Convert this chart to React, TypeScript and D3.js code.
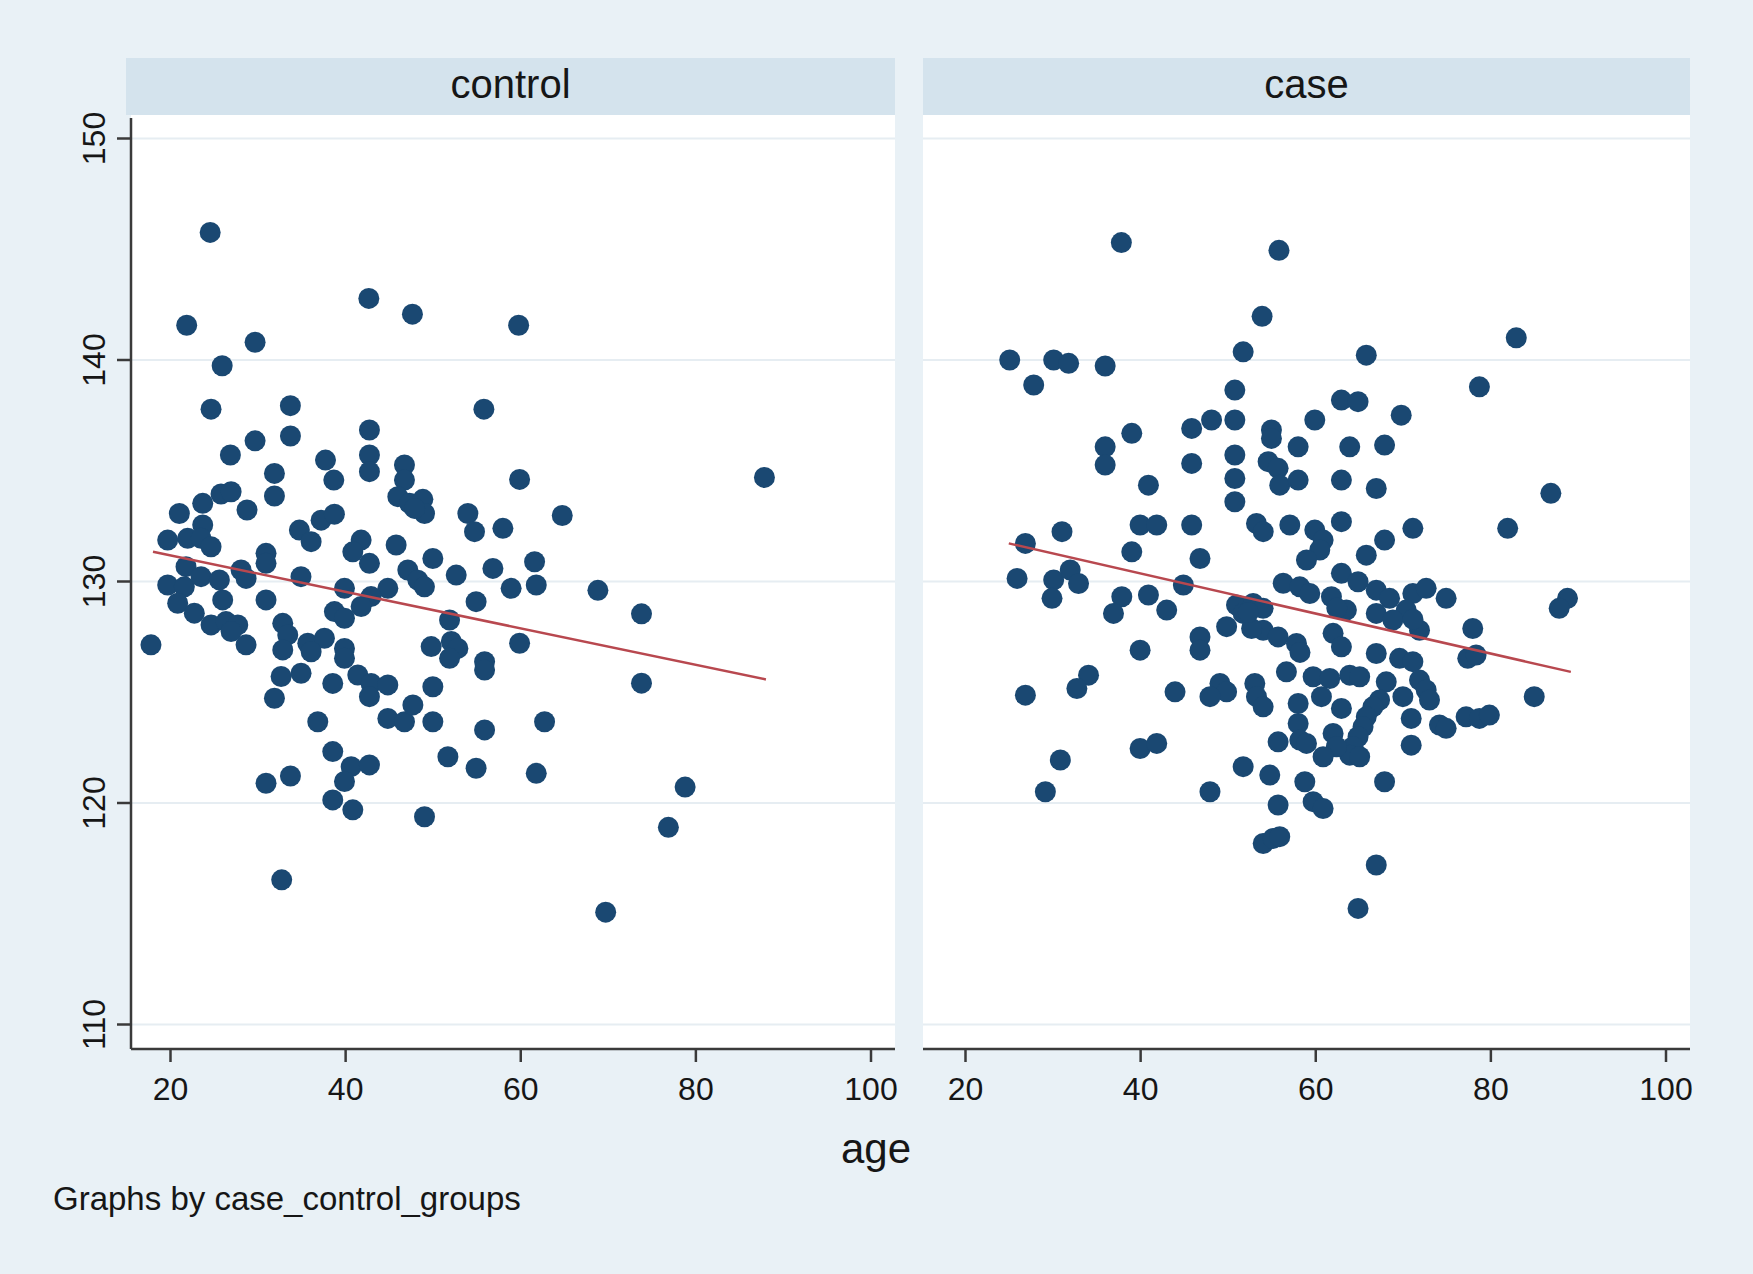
import React from "react";
import * as d3 from "d3";

// ---- data (age, systolic value) ----
const panelNames = ["control", "case"];
const xTicks = [20, 40, 60, 80, 100];
const yTicks = [110, 120, 130, 140, 150];

const controlAge = [
  29.66, 25.9, 24.63, 33.69, 33.7, 42.72, 42.72, 42.72, 55.79, 29.66, 26.84, 37.7, 38.65, 31.87, 31.87,
  46.72, 46.72, 45.96, 47.3, 48.82, 49.01, 47.87, 59.87, 21.01, 23.68, 25.77, 26.92, 28.74, 23.68, 19.68,
  21.96, 23.49, 24.63, 34.72, 36.06, 37.2, 38.72, 41.77, 40.82, 42.72, 45.77, 53.96, 54.72, 57.96, 30.91,
  30.91, 61.58, 61.77, 56.82, 52.63, 49.96, 47.1, 48.25, 49.0, 58.9, 44.82, 39.87, 34.9, 28.06, 21.77,
  19.68, 21.58, 23.49, 25.58, 28.63,
  25.96, 54.9, 30.91, 42.9, 41.77, 38.72, 39.87, 20.82, 22.72, 24.63, 26.34, 27.68, 26.92, 28.63, 17.77,
  51.87, 49.77, 52.07, 52.82, 51.87, 55.87, 55.87, 59.87, 32.82, 33.39, 32.82, 35.68, 37.58, 36.06, 39.87,
  39.87, 32.63, 34.91, 31.87, 38.53, 41.39, 42.91, 44.82, 42.72, 49.96, 44.82, 46.72, 47.68, 49.96, 55.87,
  62.72, 36.82, 38.53, 40.63, 42.72, 39.87, 38.53, 40.82, 30.91, 33.7, 51.68, 54.9, 61.77, 49.01,
  24.53, 21.85, 42.65, 47.63, 59.76, 32.7, 69.7, 76.86, 78.77, 87.83, 64.74, 68.81, 73.79, 73.79,
];
const controlValue = [
  140.8, 139.74, 137.78, 137.94, 136.57, 136.84, 135.71, 134.96, 137.78, 136.35, 135.71, 135.48, 134.58, 134.88, 133.86,
  135.26, 134.58, 133.83, 133.53, 133.71, 133.07, 133.3, 134.61, 133.07, 133.53, 133.95, 134.05, 133.23, 132.55, 131.87,
  131.95, 131.95, 131.57, 132.32, 131.8, 132.77, 133.04, 131.87, 131.34, 130.82, 131.65, 133.07, 132.25, 132.4, 131.27,
  130.82, 130.89, 129.84, 130.59, 130.29, 131.04, 130.52, 130.06, 129.76, 129.69, 129.69, 129.69, 130.22, 130.52, 130.67,
  129.84, 129.76, 130.22, 130.07, 130.14,
  129.17, 129.09, 129.17, 129.32, 128.87, 128.64, 128.34, 129.02, 128.57, 128.04, 128.19, 128.04, 127.74, 127.14, 127.14,
  128.26, 127.06, 127.29, 126.98, 126.53, 126.38, 126.0, 127.21, 128.11, 127.59, 126.91, 127.21, 127.44, 126.83, 126.98,
  126.53, 125.71, 125.86, 124.73, 125.4, 125.78, 125.4, 125.33, 124.8, 125.25, 123.82, 123.67, 124.43, 123.67, 123.3,
  123.67, 123.67, 122.32, 121.64, 121.72, 120.97, 120.14, 119.69, 120.89, 121.22, 122.09, 121.57, 121.34, 119.38,
  145.76, 141.57, 142.78, 142.07, 141.57, 116.53, 115.07, 118.9, 120.72, 134.7, 132.98, 129.6, 128.54, 125.41,
];

const caseAge = [
  37.8, 55.8, 53.87,
  25.05, 27.79, 30.07, 31.78, 35.95, 51.71, 50.76, 50.76, 48.1, 45.83, 38.99, 35.95, 35.95, 45.83, 50.76,
  50.76, 50.76, 54.94, 54.94, 54.56, 55.7, 55.89, 40.89, 31.02, 39.94, 41.84, 45.83, 53.23, 54.0, 26.84,
  38.99, 46.78, 25.89, 30.07, 31.96, 32.91, 29.88, 37.85, 40.89, 42.98, 44.88, 36.9, 50.95, 52.85, 53.99,
  51.71,
  82.9, 65.77, 78.69, 62.93, 64.83, 69.76, 59.89, 63.88, 67.86, 57.99, 57.99, 62.93, 66.91, 86.85, 57.04,
  59.89, 60.84, 60.46, 58.94, 62.93, 67.86, 71.09, 65.77, 81.92, 62.93, 64.83, 56.28, 58.18, 59.32, 61.79,
  66.91, 68.43, 71.09, 72.61, 74.89, 88.75, 87.8, 63.5, 66.91, 70.33,
  49.82, 54.0, 55.7, 46.78, 46.78, 39.94, 56.65, 34.05, 32.72, 26.84, 43.93, 49.06, 49.82, 47.92, 53.04,
  53.23, 53.99, 39.94, 41.84, 30.83, 29.12, 47.92, 51.71, 54.75, 55.7, 55.7, 54.0, 55.13, 55.89,
  77.93, 77.36, 78.31, 84.95, 57.8, 58.2, 61.98, 62.93, 66.91, 69.57, 71.09, 68.81, 71.85, 59.7, 61.6,
  63.88, 65.02, 60.65, 62.93, 68.05, 69.95, 71.85, 72.61, 72.99, 67.29, 66.53, 65.77, 65.4, 64.83, 64.26,
  63.88, 61.98, 62.36, 60.84, 65.02, 57.99, 57.99, 58.18, 58.94, 70.9, 74.13, 74.89, 77.17, 78.69, 79.83,
  70.9, 67.86, 58.75, 59.7, 60.84, 66.91, 64.83,
  52.67, 62.4, 71.1, 52.3,
];
const caseValue = [
  145.3, 144.95, 141.97,
  140.0, 138.87, 140.0, 139.85, 139.73, 140.37, 138.64, 137.29, 137.29, 136.91, 136.69, 136.08, 135.26, 135.33, 135.71,
  134.65, 133.6, 136.84, 136.46, 135.41, 135.11, 134.35, 134.35, 132.25, 132.55, 132.55, 132.55, 132.62, 132.25, 131.72,
  131.34, 131.04, 130.14, 130.07, 130.52, 129.91, 129.24, 129.31, 129.39, 128.71, 129.84, 128.56, 128.94, 129.01, 128.79,
  128.56,
  141.0, 140.22, 138.79, 138.19, 138.12, 137.51, 137.29, 136.08, 136.16, 136.08, 134.58, 134.58, 134.2, 133.98, 132.55,
  132.32, 131.87, 131.42, 130.97, 132.7, 131.87, 132.4, 131.19, 132.4, 130.37, 129.99, 129.92, 129.76, 129.46, 129.31,
  129.61, 129.24, 129.46, 129.69, 129.24, 129.24, 128.79, 128.71, 128.56, 128.71,
  127.96, 127.8, 127.5, 127.5, 126.9, 126.9, 125.92, 125.77, 125.17, 124.87, 125.02, 125.4, 125.02, 124.8, 125.4,
  124.8, 124.34, 122.46, 122.69, 121.94, 120.51, 120.51, 121.64, 121.26, 122.76, 119.91, 118.17, 118.4, 118.48,
  127.88, 126.53, 126.68, 124.8, 127.2, 126.8, 127.66, 127.05, 126.75, 126.53, 126.38, 128.26, 127.8, 125.7, 125.62,
  125.77, 125.7, 124.8, 124.27, 125.47, 124.8, 125.55, 125.1, 124.65, 124.65, 124.34, 123.89, 123.44, 122.99, 122.54,
  122.16, 123.14, 122.54, 122.09, 122.09, 124.49, 123.59, 122.84, 122.69, 123.82, 123.52, 123.37, 123.89, 123.82, 123.97,
  122.61, 120.96, 120.96, 120.06, 119.75, 117.2, 115.24,
  127.88, 128.8, 128.3, 128.6,
];

// fitted lines (age, value) at the ends
const controlFitAge = [18, 88];
const controlFitValue = [131.34, 125.58];
const caseFitAge = [24.94, 89.13];
const caseFitValue = [131.72, 125.92];

const footnote = "Graphs by case_control_groups";
const xTitle = "age";

// ---- layout / style ----
const W = 1753;
const H = 1274;
const FONT = "'Liberation Sans', Arial, Helvetica, sans-serif";
const BG = "#e9f1f6";
const STRIP = "#d4e3ed";
const DOT = "#1a4872";
const FIT = "#b8484f";
const AXIS = "#3a3a3a";
const GRID = "#e6edf2";

const plotTop = 115;
const plotBottom = 1049;
const stripTop = 58;

const panels = [
  { stripL: 126, plotL: 131, plotR: 895, x20: 170.5, x100: 871, axisY: true },
  { stripL: 923, plotL: 923, plotR: 1690, x20: 965.5, x100: 1666, axisY: false },
];

const yScale = d3.scaleLinear().domain([120, 150]).range([803, 138.5]);

export default function App() {
  React.useEffect(() => {
    document.body.style.margin = "0";
    document.body.style.background = BG;
  }, []);

  const series = [
    { age: controlAge, val: controlValue, fa: controlFitAge, fv: controlFitValue },
    { age: caseAge, val: caseValue, fa: caseFitAge, fv: caseFitValue },
  ];

  return (
    <svg
      width={W}
      height={H}
      viewBox={`0 0 ${W} ${H}`}
      style={{ position: "absolute", left: 0, top: 0, display: "block" }}
      fontFamily={FONT}
    >
      <rect x={0} y={0} width={W} height={H} fill={BG} />
      {panels.map((p, i) => {
        const x = d3.scaleLinear().domain([20, 100]).range([p.x20, p.x100]);
        const s = series[i];
        const line = d3
          .line<number>()
          .x((_, k) => x(s.fa[k]))
          .y((_, k) => yScale(s.fv[k]));
        return (
          <g key={i}>
            {/* strip */}
            <rect x={p.stripL} y={stripTop} width={p.plotR - p.stripL} height={plotTop - stripTop} fill={STRIP} />
            <text
              x={(p.stripL + p.plotR) / 2}
              y={98}
              textAnchor="middle"
              fontSize={40}
              fill="#161616"
            >
              {panelNames[i]}
            </text>
            {/* plot region */}
            <rect x={p.plotL} y={plotTop} width={p.plotR - p.plotL} height={plotBottom - plotTop} fill="#ffffff" />
            {yTicks.map((t) => (
              <line
                key={"g" + t}
                x1={p.plotL}
                x2={p.plotR}
                y1={yScale(t)}
                y2={yScale(t)}
                stroke={GRID}
                strokeWidth={2}
              />
            ))}
            {/* points */}
            {s.age.map((a, k) => (
              <circle key={k} cx={x(a)} cy={yScale(s.val[k])} r={10.5} fill={DOT} />
            ))}
            {/* fit line */}
            <path d={line(s.fa) || ""} fill="none" stroke={FIT} strokeWidth={2.5} />
            {/* x axis */}
            <line x1={p.plotL} x2={p.plotR} y1={plotBottom} y2={plotBottom} stroke={AXIS} strokeWidth={2.5} />
            {xTicks.map((t) => (
              <g key={"x" + t}>
                <line x1={x(t)} x2={x(t)} y1={plotBottom} y2={plotBottom + 13} stroke={AXIS} strokeWidth={2.5} />
                <text x={x(t)} y={1100} textAnchor="middle" fontSize={32} fill="#161616">
                  {t}
                </text>
              </g>
            ))}
            {/* y axis */}
            {p.axisY && (
              <g>
                <line x1={p.plotL} x2={p.plotL} y1={118} y2={plotBottom} stroke={AXIS} strokeWidth={2.5} />
                {yTicks.map((t) => (
                  <g key={"y" + t}>
                    <line x1={p.plotL - 14} x2={p.plotL} y1={yScale(t)} y2={yScale(t)} stroke={AXIS} strokeWidth={2.5} />
                    <text
                      transform={`translate(105, ${yScale(t)}) rotate(-90)`}
                      textAnchor="middle"
                      fontSize={32}
                      fill="#161616"
                    >
                      {t}
                    </text>
                  </g>
                ))}
              </g>
            )}
          </g>
        );
      })}
      <text x={911} y={1163} textAnchor="end" fontSize={42} fill="#161616">
        {xTitle}
      </text>
      <text x={53} y={1210} fontSize={33} fill="#161616">
        {footnote}
      </text>
    </svg>
  );
}
